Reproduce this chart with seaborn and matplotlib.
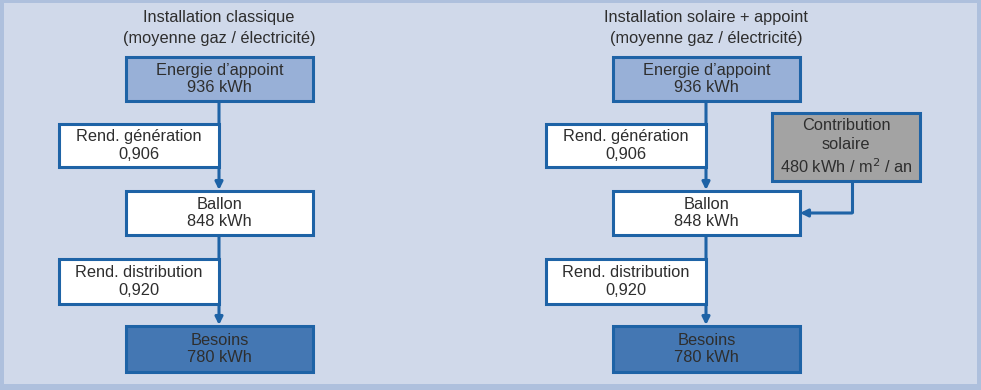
"""Schéma énergétique : installation classique vs installation solaire + appoint."""

import matplotlib.pyplot as plt
from matplotlib.patches import Rectangle, FancyArrowPatch
import seaborn as sns

sns.set_theme(style="white")
plt.rcParams["font.family"] = ["Liberation Sans", "DejaVu Sans"]

# ---- data -------------------------------------------------------------
panel_titles = [
    "Installation classique\n(moyenne gaz / électricité)",
    "Installation solaire + appoint\n(moyenne gaz / électricité)",
]
energie_label = "Energie d’appoint"
energie_kwh = 936
rend_gen_label = "Rend. génération"
rend_gen = "0,906"
ballon_label = "Ballon"
ballon_kwh = 848
rend_dist_label = "Rend. distribution"
rend_dist = "0,920"
besoins_label = "Besoins"
besoins_kwh = 780
solaire_label = "Contribution\nsolaire\n480 kWh / m$^2$ / an"

# ---- style ------------------------------------------------------------
BG = "#d0d9ea"
FRAME = "#aec0dd"
EDGE = "#1e63a6"
TXT = "#2e2e2e"
FILL_TOP = "#98b0d7"
FILL_BOT = "#4477b3"
FILL_SUN = "#a3a3a3"
FS = 11.8

fig = plt.figure(figsize=(9.81, 3.90), dpi=100)
fig.patch.set_facecolor(FRAME)
ax = fig.add_axes([0, 0, 1, 1])
ax.set_xlim(0, 981)
ax.set_ylim(390, 0)
ax.axis("off")

ax.add_patch(Rectangle((4, 3), 973, 381, facecolor=BG, edgecolor="none", zorder=0))


def box(x0, y0, x1, y1, text, fill, spacing=1.22):
    ax.add_patch(Rectangle((x0, y0), x1 - x0, y1 - y0, facecolor=fill,
                           edgecolor=EDGE, linewidth=2.2, zorder=3))
    ax.text((x0 + x1) / 2, (y0 + y1) / 2, text, ha="center", va="center",
            fontsize=FS, color=TXT, linespacing=spacing, zorder=4)


def arrow(points):
    xs, ys = zip(*points)
    ax.plot(xs[:-1], ys[:-1], color=EDGE, lw=2.2, zorder=2, solid_capstyle="butt")
    ax.add_patch(FancyArrowPatch(points[-2], points[-1], arrowstyle="-|>",
                                 mutation_scale=11, color=EDGE, lw=2.2,
                                 shrinkA=0, shrinkB=0, zorder=2))


for i, title in enumerate(panel_titles):
    dx = 487 * i
    cx = 219 + dx
    ax.text(cx, 28, title, ha="center", va="center", fontsize=FS,
            color=TXT, linespacing=1.58)
    arrow([(cx, 101), (cx, 190)])
    arrow([(cx, 235), (cx, 325)])
    box(126 + dx, 57, 313 + dx, 101, f"{energie_label}\n{energie_kwh} kWh", FILL_TOP)
    box(59 + dx, 124, cx, 167, f"{rend_gen_label}\n{rend_gen}", "white")
    box(126 + dx, 191, 313 + dx, 235, f"{ballon_label}\n{ballon_kwh} kWh", "white")
    box(59 + dx, 259, cx, 304, f"{rend_dist_label}\n{rend_dist}", "white")
    box(126 + dx, 326, 313 + dx, 372, f"{besoins_label}\n{besoins_kwh} kWh", FILL_BOT)

# solar contribution (right panel only)
box(772, 113, 920, 181, solaire_label, FILL_SUN, spacing=1.35)
arrow([(852, 181), (852, 213), (800, 213)])

fig.savefig("out.png", dpi=100, facecolor=FRAME)
